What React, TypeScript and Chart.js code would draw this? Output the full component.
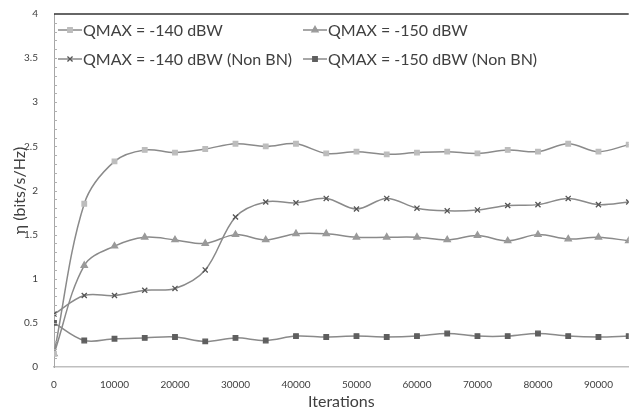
import React, { useEffect, useRef } from "react";
import { Chart, registerables } from "chart.js";
import { drawPoint } from "chart.js/helpers";

Chart.register(...registerables);

const iterations = [0, 5000, 10000, 15000, 20000, 25000, 30000, 35000, 40000, 45000, 50000, 55000, 60000, 65000, 70000, 75000, 80000, 85000, 90000, 95000];
const qmax140 = [0.15, 1.85, 2.33, 2.46, 2.43, 2.47, 2.53, 2.5, 2.53, 2.42, 2.44, 2.41, 2.43, 2.44, 2.42, 2.46, 2.44, 2.53, 2.44, 2.52];
const qmax150 = [0.15, 1.15, 1.37, 1.47, 1.44, 1.4, 1.5, 1.44, 1.51, 1.51, 1.47, 1.47, 1.47, 1.44, 1.49, 1.43, 1.5, 1.45, 1.47, 1.43];
const qmax140NonBN = [0.6, 0.81, 0.81, 0.87, 0.89, 1.1, 1.7, 1.87, 1.86, 1.91, 1.79, 1.91, 1.8, 1.77, 1.78, 1.83, 1.84, 1.91, 1.84, 1.87];
const qmax150NonBN = [0.5, 0.3, 0.32, 0.33, 0.34, 0.29, 0.33, 0.3, 0.35, 0.34, 0.35, 0.34, 0.35, 0.38, 0.35, 0.35, 0.38, 0.35, 0.34, 0.35];
const seriesLabels = ["QMAX = -140 dBW", "QMAX = -150 dBW", "QMAX = -140 dBW (Non BN)", "QMAX = -150 dBW (Non BN)"];
const xTickLabels = ["0", "10000", "20000", "30000", "40000", "50000", "60000", "70000", "80000", "90000"];

const FONT = "Lato, 'Open Sans', 'DejaVu Sans', sans-serif";
const TEXT = "#404040";
const LINE = "#8a8a8a";

const styles = [
  { pointStyle: "rect", color: "#bdbdbd", radius: 3.2 },
  { pointStyle: "triangle", color: "#9a9a9a", radius: 3.6 },
  { pointStyle: "crossRot", color: "#555555", radius: 3.6 },
  { pointStyle: "rect", color: "#5f5f5f", radius: 3.2 },
];

const frame = {
  id: "frame",
  afterDraw(chart: any) {
    const { ctx, chartArea } = chart;
    const y = chart.scales.y;
    ctx.save();
    ctx.strokeStyle = "#333333";
    ctx.lineWidth = 1.5;
    ctx.beginPath();
    ctx.moveTo(chartArea.left, chartArea.top);
    ctx.lineTo(chartArea.right, chartArea.top);
    ctx.stroke();
    ctx.strokeStyle = "#b0b0b0";
    ctx.lineWidth = 1;
    for (let i = 1; i < 40; i++) {
      const py = Math.round(y.getPixelForValue(i / 10)) + 0.5;
      ctx.beginPath();
      ctx.moveTo(chartArea.left, py);
      ctx.lineTo(chartArea.left + 3, py);
      ctx.stroke();
    }
    const cols = [58, 303];
    const rows = [30, 59];
    ctx.font = `16px ${FONT}`;
    ctx.textBaseline = "middle";
    ctx.textAlign = "left";
    for (let i = 0; i < 4; i++) {
      const x0 = cols[i % 2];
      const yy = rows[Math.floor(i / 2)];
      ctx.strokeStyle = LINE;
      ctx.lineWidth = 1.5;
      ctx.beginPath();
      ctx.moveTo(x0, yy);
      ctx.lineTo(x0 + 24, yy);
      ctx.stroke();
      const st = styles[i];
      ctx.fillStyle = st.color;
      ctx.strokeStyle = st.color;
      ctx.lineWidth = 1.3;
      drawPoint(ctx, { pointStyle: st.pointStyle as any, radius: st.radius, rotation: 0, borderWidth: 1.3 }, x0 + 12, yy);
      ctx.fillStyle = TEXT;
      ctx.fillText(seriesLabels[i], x0 + 25, yy + 1);
    }
    ctx.restore();
  },
};

export default function App() {
  const ref = useRef<HTMLCanvasElement>(null);
  useEffect(() => {
    const lists = [qmax140, qmax150, qmax140NonBN, qmax150NonBN];
    const chart = new Chart(ref.current!, {
      type: "line",
      data: {
        datasets: lists.map((vals, i) => ({
          label: seriesLabels[i],
          data: iterations.map((x, j) => ({ x, y: vals[j] })),
          borderColor: LINE,
          borderWidth: 1.5,
          tension: 0.35,
          pointStyle: styles[i].pointStyle as any,
          pointRadius: styles[i].radius,
          pointBackgroundColor: styles[i].color,
          pointBorderColor: styles[i].color,
          pointBorderWidth: 1.3,
        })),
      },
      options: {
        animation: false,
        responsive: false,
        devicePixelRatio: 1,
        layout: { padding: { top: 13, right: 0, left: 0, bottom: 0 } },
        plugins: { legend: { display: false }, tooltip: { enabled: false } },
        scales: {
          x: {
            type: "linear",
            min: 0,
            max: 95000,
            grid: { display: false },
            border: { display: true, color: "#bfbfbf", width: 1.5 },
            afterBuildTicks: (s: any) => {
              s.ticks = xTickLabels.map((t) => ({ value: Number(t) }));
            },
            afterFit: (s: any) => {
              s.height = 46;
            },
            ticks: {
              autoSkip: false,
              maxRotation: 0,
              padding: 4,
              color: TEXT,
              font: { family: FONT, size: 10 },
              callback: (v: any) => String(v),
            },
            title: {
              display: true,
              text: "Iterations",
              color: TEXT,
              font: { family: FONT, size: 16 },
              padding: { top: 0, bottom: 2 },
            },
          },
          y: {
            min: 0,
            max: 4,
            grid: { display: false },
            border: { display: true, color: "#a6a6a6", width: 1 },
            afterFit: (s: any) => {
              s.width = 54;
            },
            ticks: {
              stepSize: 0.5,
              padding: 8,
              color: TEXT,
              font: { family: FONT, size: 10 },
              callback: (v: any) => String(v),
            },
            title: {
              display: true,
              text: "η (bits/s/Hz)",
              color: TEXT,
              font: { family: FONT, size: 16 },
              padding: { top: 10, bottom: 0 },
            },
          },
        },
      },
      plugins: [frame],
    });
    return () => chart.destroy();
  }, []);
  return (
    <div style={{ position: "absolute", left: 0, top: 0, width: 634, height: 413, background: "#fff" }}>
      <canvas ref={ref} width={634} height={413} style={{ width: 634, height: 413, display: "block" }} />
    </div>
  );
}
